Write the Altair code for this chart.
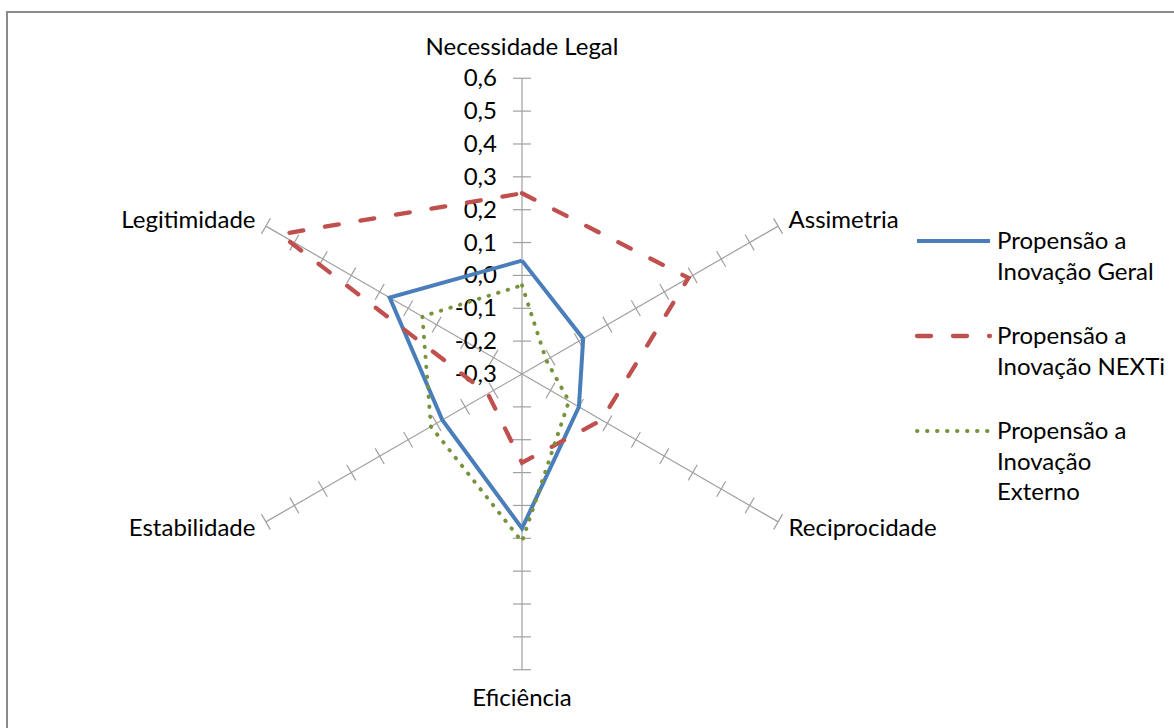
import altair as alt
import pandas as pd
import numpy as np

# ---------------- data ----------------
CATEGORIES = ["Necessidade Legal", "Assimetria", "Reciprocidade",
              "Eficiência", "Estabilidade", "Legitimidade"]
SERIES = ["Propensão a Inovação Geral", "Propensão a Inovação NEXTi",
          "Propensão a Inovação Externo"]
LEGEND_LABELS = ["Propensão a\nInovação Geral", "Propensão a\nInovação NEXTi",
                 "Propensão a\nInovação\nExterno"]
GERAL = [0.045, -0.085, -0.10, 0.17, -0.02, 0.165]
NEXTI = [0.25, 0.285, -0.02, -0.03, -0.18, 0.55]
EXTERNO = [-0.03, -0.215, -0.135, 0.21, 0.02, 0.05]
TICK_VALUES = [-0.3, -0.2, -0.1, 0.0, 0.1, 0.2, 0.3, 0.4, 0.5, 0.6]
TICK_LABELS = ["-0,3", "-0,2", "-0,1", "0,0", "0,1", "0,2", "0,3", "0,4", "0,5", "0,6"]
AXIS_MIN = -0.3
AXIS_MAX = 0.6

# ---------------- layout / style ----------------
W, H = 1174, 728
CX, CY = 522, 374
PX = 328.6                      # pixels per value unit
XDOM = [-CX / PX, (W - CX) / PX]
YDOM = [-(H - CY) / PX, CY / PX]
FONT = "Lato"
FS = 24
COLORS = ["#4A7EBB", "#C0504D", "#77933C"]
DASHES = [None, [14, 22], [0.5, 9.5]]
WIDTHS = [4, 4.3, 3.9]
CAPS = ["butt", "round", "round"]
GRID = "#a0a0a0"
TICK_HALF = 9 / PX

R = AXIS_MAX - AXIS_MIN
theta = np.arange(len(CATEGORIES)) * 2 * np.pi / len(CATEGORIES)

xs = alt.Scale(domain=XDOM, nice=False, zero=False)
ys = alt.Scale(domain=YDOM, nice=False, zero=False)


def X(f):
    return alt.X(f, type="quantitative", scale=xs, axis=None)


def Y(f):
    return alt.Y(f, type="quantitative", scale=ys, axis=None)


# spokes
spokes = pd.DataFrame({
    "category": CATEGORIES,
    "x0": 0.0, "y0": 0.0,
    "x1": R * np.sin(theta), "y1": R * np.cos(theta),
})
spoke_layer = alt.Chart(spokes).mark_rule(color=GRID, strokeWidth=1.2).encode(
    x=X("x0"), y=Y("y0"), x2="x1", y2="y1")

# tick marks on each spoke
rows = []
for c, t in zip(CATEGORIES, theta):
    for v in TICK_VALUES[1:]:
        r = v - AXIS_MIN
        px, py = r * np.sin(t), r * np.cos(t)
        nx, ny = np.cos(t), -np.sin(t)
        rows.append({"category": c, "v": v,
                     "xa": px - nx * TICK_HALF, "ya": py - ny * TICK_HALF,
                     "xb": px + nx * TICK_HALF, "yb": py + ny * TICK_HALF})
ticks = pd.DataFrame(rows)
tick_layer = alt.Chart(ticks).mark_rule(color=GRID, strokeWidth=1.2).encode(
    x=X("xa"), y=Y("ya"), x2="xb", y2="yb")

# radial tick labels
tl = pd.DataFrame({"label": TICK_LABELS,
                   "y": [v - AXIS_MIN for v in TICK_VALUES],
                   "x": -25 / PX})
tick_label_layer = alt.Chart(tl).mark_text(
    align="right", baseline="middle", font=FONT, fontSize=FS, color="#000000", dy=1
).encode(x=X("x"), y=Y("y"), text="label:N")

# category labels
lab = pd.DataFrame({"category": CATEGORIES, "s": np.sin(theta), "c": np.cos(theta)})
side = lab[np.abs(lab["s"]) > 0.1].copy()
side["x"] = (R + 12 / PX) * side["s"]
side["y"] = (R + 12 / PX) * side["c"]
right_side = side[side["s"] > 0]
left_side = side[side["s"] < 0]
top = lab[lab["c"] > 0.9].copy()
top["x"] = 0.0
top["y"] = R + 23 / PX
bottom = lab[lab["c"] < -0.9].copy()
bottom["x"] = 0.0
bottom["y"] = -(R + 36 / PX)

label_layers = [
    alt.Chart(right_side).mark_text(align="left", baseline="middle", font=FONT,
                                    fontSize=FS, color="#000000", dy=1)
    .encode(x=X("x"), y=Y("y"), text="category:N"),
    alt.Chart(left_side).mark_text(align="right", baseline="middle", font=FONT,
                                   fontSize=FS, color="#000000", dy=1)
    .encode(x=X("x"), y=Y("y"), text="category:N"),
    alt.Chart(top).mark_text(align="center", baseline="alphabetic", font=FONT,
                             fontSize=FS, color="#000000")
    .encode(x=X("x"), y=Y("y"), text="category:N"),
    alt.Chart(bottom).mark_text(align="center", baseline="alphabetic", font=FONT,
                                fontSize=FS, color="#000000")
    .encode(x=X("x"), y=Y("y"), text="category:N"),
]

# series polygons
series_layers = []
for i, (name, vals) in enumerate(zip(SERIES, [GERAL, NEXTI, EXTERNO])):
    r = np.array(vals) - AXIS_MIN
    d = pd.DataFrame({"series": name, "category": CATEGORIES, "value": vals,
                      "x": r * np.sin(theta), "y": r * np.cos(theta),
                      "order": range(len(CATEGORIES))})
    d = pd.concat([d, d.iloc[[0]].assign(order=len(CATEGORIES))], ignore_index=True)
    kw = dict(color=COLORS[i], strokeWidth=WIDTHS[i], strokeCap=CAPS[i],
              strokeJoin="miter")
    if DASHES[i] is not None:
        kw["strokeDash"] = DASHES[i]
    series_layers.append(
        alt.Chart(d).mark_line(**kw).encode(x=X("x"), y=Y("y"), order="order:Q"))

# custom legend
LEG_X0, LEG_X1, LEG_TX = 917, 990, 997
LEG_Y = [241, 336, 431]
legend_layers = []
for i, name in enumerate(SERIES):
    ld = pd.DataFrame({"series": [name], "label": [LEGEND_LABELS[i]]})
    kw = dict(color=COLORS[i], strokeWidth=WIDTHS[i], strokeCap=CAPS[i])
    if DASHES[i] is not None:
        kw["strokeDash"] = DASHES[i]
    legend_layers.append(alt.Chart(ld).mark_rule(**kw).encode(
        x=alt.value(LEG_X0), x2=alt.value(LEG_X1), y=alt.value(LEG_Y[i])))
    legend_layers.append(alt.Chart(ld).mark_text(
        align="left", baseline="middle", font=FONT, fontSize=FS, color="#000000",
        lineBreak="\n", lineHeight=30.5, dy=1
    ).encode(x=alt.value(LEG_TX), y=alt.value(LEG_Y[i]), text="label:N"))

# outer frame (left and top edges visible)
frame = pd.DataFrame({"k": [0]})
frame_layers = [
    alt.Chart(frame).mark_rule(color="#8c8c8c", strokeWidth=2).encode(
        x=alt.value(7), y=alt.value(11), y2=alt.value(H)),
    alt.Chart(frame).mark_rule(color="#8c8c8c", strokeWidth=2).encode(
        x=alt.value(6), x2=alt.value(W), y=alt.value(12)),
]

chart = alt.layer(
    *frame_layers, spoke_layer, tick_layer, tick_label_layer, *label_layers,
    *series_layers, *legend_layers
).properties(
    width=W, height=H, autosize=alt.AutoSizeParams(type="none"), padding=0,
    background="white"
).configure_view(stroke=None)

chart.save("out.html", embed_options={"renderer": "svg", "actions": False})
